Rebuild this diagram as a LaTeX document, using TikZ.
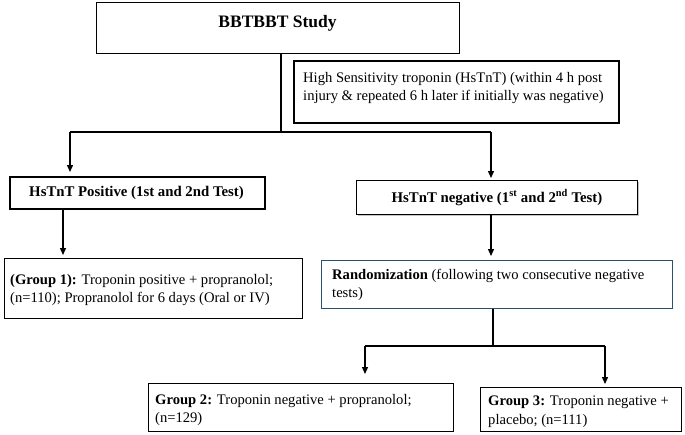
\documentclass[tikz,border=0pt]{standalone}
\usepackage{fontspec}
\setmainfont{Liberation Serif}
\usetikzlibrary{arrows.meta,shadows}
\definecolor{randblue}{HTML}{2F4F6F}
\begin{document}
\begin{tikzpicture}[x=1pt,y=-1pt,
  box/.style={draw=black, line width=0.9pt, fill=white, inner sep=0pt, anchor=north west},
  thickbox/.style={box, line width=1.8pt},
  body/.style={font=\fontsize{14.6}{18.5}\selectfont},
  boldbody/.style={font=\fontsize{14.8}{18.5}\bfseries\selectfont, inner sep=0pt},
  txt/.style={body, align=left, anchor=north west, inner sep=0pt},
  conn/.style={line width=1.3pt},
  arr/.style={conn, -{Triangle[length=7pt,width=6pt]}},
  ]
\useasboundingbox[fill=white] (0,0) rectangle (685,434);

% boxes
\node[box, minimum width=363pt, minimum height=51pt] (top) at (96,2) {};
\node[font=\fontsize{17.5}{20}\bfseries\selectfont, inner sep=0pt] (title) at (277.5,23.5) {BBTBBT Study};

\node[thickbox, minimum width=325pt, minimum height=62pt] (hs) at (293,60) {};
\node[txt] (hstext) at (303,72) {High Sensitivity troponin (HsTnT) (within 4 h post\\injury \& repeated 6 h later if initially was negative)};

\node[thickbox, minimum width=255pt, minimum height=32pt] (pos) at (9,176) {};
\node[boldbody] (postext) at (136.5,192.5) {HsTnT Positive (1st and 2nd Test)};

\node[box, minimum width=281pt, minimum height=34pt,
      drop shadow={shadow xshift=2pt, shadow yshift=-2pt, opacity=0.45}] (neg) at (356,180) {};
\node[boldbody] (negtext) at (497,197.5) {HsTnT negative (1\textsuperscript{st} and 2\textsuperscript{nd} Test)};

\node[box, minimum width=298pt, minimum height=60pt] (g1) at (4,258) {};
\node[txt] (g1text) at (10,274) {\textbf{(Group 1):} Troponin positive + propranolol;\\(n=110); Propranolol for 6 days (Oral or IV)};

\node[box, draw=randblue, line width=1.2pt, minimum width=351pt, minimum height=48pt] (rand) at (321,260) {};
\node[txt] (randtext) at (332,269) {\textbf{Randomization} (following two consecutive negative\\tests)};

\node[box, minimum width=305pt, minimum height=48pt] (g2) at (148,383) {};
\node[txt] (g2text) at (155,394) {\textbf{Group 2:} Troponin negative + propranolol;\\(n=129)};

\node[box, minimum width=201pt, minimum height=44pt] (g3) at (480,387) {};
\node[txt] (g3text) at (488,396) {\textbf{Group 3:} Troponin negative +\\placebo; (n=111)};

% connectors
\coordinate (j1) at (281,132);
\coordinate (jl) at (70,132);
\coordinate (jr) at (491,132);
\coordinate (c1) at (63,0);
\coordinate (c2) at (491,0);
\coordinate (j2) at (493,346);
\coordinate (kl) at (365,346);
\coordinate (kr) at (605,346);

\draw[conn] (top.south -| j1) -- (j1);
\draw[conn] (jl) -- (jr);
\draw[arr, shorten >=4pt] (jl) -- (pos.north -| jl);
\draw[arr, shorten >=2pt] (jr) -- (neg.north -| jr);
\draw[arr, shorten >=3pt] (pos.south -| c1) -- (g1.north -| c1);
\draw[arr, shorten >=4pt] (neg.south -| c2) -- (rand.north -| c2);
\draw[conn] (rand.south -| j2) -- (j2);
\draw[conn] (kl) -- (kr);
\draw[arr, shorten >=9pt] (kl) -- (g2.north -| kl);
\draw[arr, shorten >=3pt] (kr) -- (g3.north -| kr);
\end{tikzpicture}
\end{document}
